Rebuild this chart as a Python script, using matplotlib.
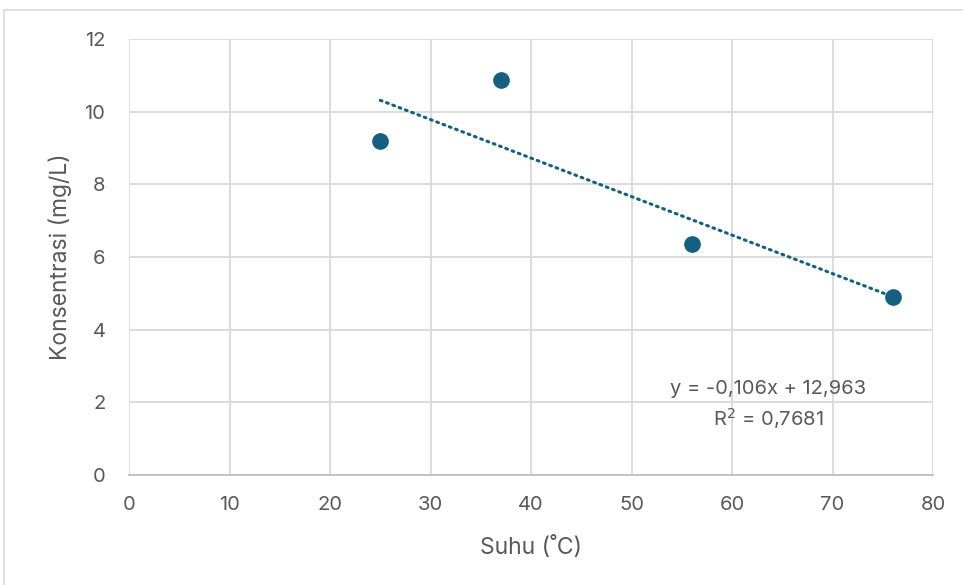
import matplotlib
matplotlib.use('Agg')
import matplotlib.pyplot as plt
from matplotlib.lines import Line2D
import numpy as np

# data
suhu = [25, 37, 56, 76]
konsentrasi = [9.2, 10.87, 6.35, 4.9]
slope, intercept = -0.106, 12.963
r2 = 0.7681
x_ticks = [0, 10, 20, 30, 40, 50, 60, 70, 80]
y_ticks = [0, 2, 4, 6, 8, 10, 12]

plt.rcParams['font.family'] = ['Inter', 'DejaVu Sans']
grey = '#595959'
dot = '#156082'

fig = plt.figure(figsize=(9.63, 5.85), dpi=100)
ax = fig.add_axes([129 / 963, 1 - 475 / 585, 804 / 963, 436 / 585])

# chart border (top and left visible)
fig.add_artist(Line2D([4 / 963, 1], [1 - 10 / 585] * 2, transform=fig.transFigure,
                      color='#d9d9d9', lw=1.2))
fig.add_artist(Line2D([4 / 963] * 2, [0, 1 - 10 / 585], transform=fig.transFigure,
                      color='#d9d9d9', lw=1.2))

ax.set_xlim(0, 80)
ax.set_ylim(0, 12)
ax.set_xticks(x_ticks)
ax.set_yticks(y_ticks)
ax.grid(True, color='#d9d9d9', lw=1.3)
ax.set_axisbelow(True)
for s in ['top', 'right', 'left']:
    ax.spines[s].set_visible(False)
ax.spines['bottom'].set_color('#bfbfbf')
ax.spines['bottom'].set_linewidth(1.3)
ax.tick_params(length=0, labelsize=14.5, colors=grey)
ax.tick_params(axis='x', pad=15)
ax.tick_params(axis='y', pad=17)

xs = np.array([min(suhu), max(suhu)])
ax.plot(xs, slope * xs + intercept, color=dot, lw=2.2, linestyle=(0, (0.6, 1.6)),
        dash_capstyle='round', zorder=2)
ax.plot(suhu, konsentrasi, 'o', color=dot, markersize=11, zorder=3)

ax.text(63.6, 2.37, 'y = -0,106x + 12,963', ha='center', va='center',
        fontsize=14.5, color=grey)
ax.text(63.6, 1.54, 'R$^2$ = 0,7681', ha='center', va='center',
        fontsize=14.5, color=grey)

ax.set_xlabel('Suhu (˚C)', fontsize=16.5, color=grey, labelpad=16)
ax.set_ylabel('Konsentrasi (mg/L)', fontsize=16.5, color=grey, labelpad=9)

fig.savefig('out.png', dpi=100)
